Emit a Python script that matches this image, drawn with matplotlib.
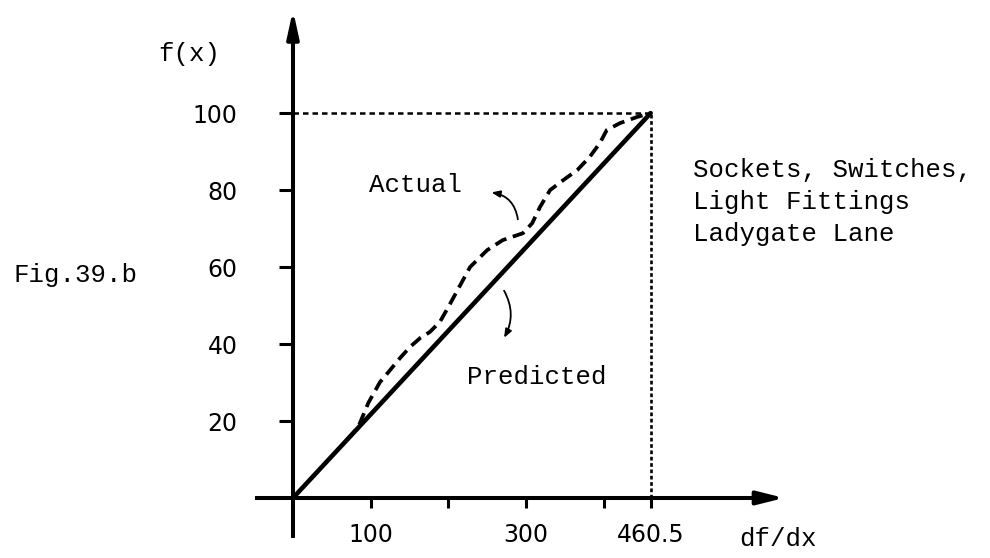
import matplotlib
matplotlib.use("Agg")
import matplotlib.pyplot as plt

# data
x_end = 460.5
y_end = 100
predicted_x = [0, x_end]
predicted_y = [0, y_end]

actual_x = [70, 84, 97, 112, 122, 138, 151, 164, 176, 189, 200, 211, 228, 250, 270,
            296, 308, 318, 331, 348, 366, 382, 395, 404, 421, 443, 460.5]
actual_y = [15.2, 18.4, 24.7, 30.1, 32.5, 36.4, 39.3, 41.6, 43.1, 45.7, 49.6, 53.7, 60.0,
            64.4, 67.0, 68.8, 71.4, 75.6, 80.0, 82.6, 85.2, 88.6, 92.2, 95.6, 97.4, 99.0, 100]

xticks = [100, 200, 300, 400, x_end]
xtick_labels = ["100", "", "300", "", "460.5"]
yticks = [20, 40, 60, 80, 100]
ytick_labels = ["20", "40", "60", "80", "100"]
note_lines = ["Sockets, Switches,", "Light Fittings", "Ladygate Lane"]

mono = "Liberation Mono"

fig = plt.figure(figsize=(9.9, 5.58), dpi=100)
ax = fig.add_axes([0, 0, 1, 1])
ax.set_xlim(-377.2, 897.4)
ax.set_ylim(-15.6, 129.4)

# axes through the origin
for s in ["top", "right"]:
    ax.spines[s].set_visible(False)
ax.spines["left"].set_position(("data", 0))
ax.spines["bottom"].set_position(("data", 0))
ax.spines["left"].set_bounds(-10, 122)
ax.spines["bottom"].set_bounds(-46, 620)
ax.spines["left"].set_linewidth(2.9)
ax.spines["bottom"].set_linewidth(2.9)
ax.patch.set_visible(False)

# arrow heads on the axes
ax.annotate("", xy=(0, 127.5), xytext=(0, 115),
            arrowprops=dict(arrowstyle="-|>,head_length=1.6,head_width=0.35",
                            lw=2.9, color="black"))
ax.annotate("", xy=(636, 0), xytext=(605, 0),
            arrowprops=dict(arrowstyle="-|>,head_length=1.6,head_width=0.4",
                            lw=2.9, color="black"))

ax.set_xticks(xticks)
ax.set_xticklabels(xtick_labels, fontsize=17, family="DejaVu Sans")
ax.set_yticks(yticks)
ax.set_yticklabels(ytick_labels, fontsize=17, family="DejaVu Sans")
ax.tick_params(axis="x", direction="out", length=7, width=2.2, pad=11)
ax.tick_params(axis="y", direction="out", length=10, width=2.2, pad=30)

# reference lines
ax.plot([0, x_end], [y_end, y_end], color="black", lw=1.8, dashes=(2.2, 1.6))
ax.plot([x_end, x_end], [0, y_end], color="black", lw=1.9, dashes=(1.4, 1.0))

ax.plot(predicted_x, predicted_y, color="black", lw=3.3, solid_capstyle="round")
ax.plot(actual_x, actual_y, color="black", lw=2.7, dashes=(3.3, 1.8))

# labels
ax.text(-134, 115.3, "f(x)", fontsize=18.5, family=mono, ha="center", va="center")
ax.text(-280, 57.9, "Fig.39.b", fontsize=18.5, family=mono, ha="center", va="center")
ax.text(158, 81.3, "Actual", fontsize=18.5, family=mono, ha="center", va="center")
ax.text(314, 31.4, "Predicted", fontsize=18.5, family=mono, ha="center", va="center")
for i, line in enumerate(note_lines):
    ax.text(515, 83.4 - i * 8.3, line, fontsize=18.5, family=mono, ha="left", va="baseline")
ax.text(624, -10.6, "df/dx", fontsize=18.5, family=mono, ha="center", va="center")

# pointer arrows
ax.annotate("", xy=(252, 79.5), xytext=(290, 71.7),
            arrowprops=dict(arrowstyle="-|>,head_length=0.5,head_width=0.2",
                            lw=1.3, color="black", connectionstyle="arc3,rad=0.4"))
ax.annotate("", xy=(270, 41), xytext=(270, 54.5),
            arrowprops=dict(arrowstyle="-|>,head_length=0.5,head_width=0.2",
                            lw=1.3, color="black", connectionstyle="arc3,rad=-0.3"))

fig.savefig("out.png", dpi=100)
